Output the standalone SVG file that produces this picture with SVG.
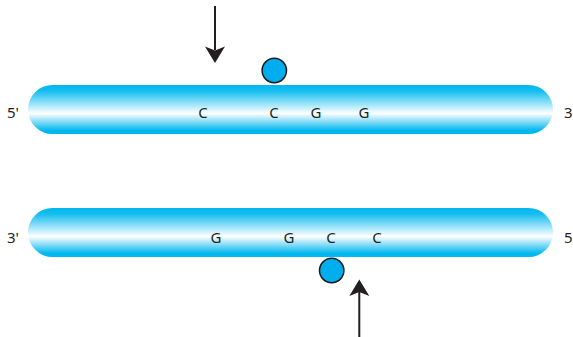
<svg xmlns="http://www.w3.org/2000/svg" width="573" height="337" viewBox="0 0 573 337">
  <defs>
    <linearGradient id="strandFill" x1="0" y1="0" x2="0" y2="1">
      <stop offset="0" stop-color="#00b7ee"/>
      <stop offset="0.12" stop-color="#14bdf0"/>
      <stop offset="0.58" stop-color="#ffffff"/>
      <stop offset="0.93" stop-color="#00b7ee"/>
      <stop offset="1" stop-color="#00b7ee"/>
    </linearGradient>
  </defs>
  <style>
    .strand { fill: url(#strandFill); }
    .base { font-family: "Noto Sans", "Liberation Sans", sans-serif; font-size: 15px; fill: #231f20; text-anchor: middle; }
    .end { font-family: "Noto Sans", "Liberation Sans", sans-serif; font-size: 15px; fill: #231f20; }
    .mark { fill: #00aeef; stroke: #1a1a1a; stroke-width: 1.5; }
    .shaft { stroke: #231f20; stroke-width: 2; fill: none; }
    .head { fill: #231f20; }
  </style>

  <rect width="573" height="337" fill="#ffffff"/>

  <!-- upper strand, 5' to 3' -->
  <g id="strand-top">
    <rect class="strand" x="28" y="85" width="525" height="49" rx="24.5" ry="24.5"/>
    <text class="end" x="7" y="118">5'</text>
    <text class="base" x="203" y="118">C</text>
    <text class="base" x="274" y="118">C</text>
    <text class="base" x="316" y="118">G</text>
    <text class="base" x="364" y="118">G</text>
    <text class="end" x="564" y="118">3</text>
  </g>

  <!-- lower strand, 3' to 5' -->
  <g id="strand-bottom">
    <rect class="strand" x="28" y="208" width="525" height="49" rx="24.5" ry="24.5"/>
    <text class="end" x="7" y="243">3'</text>
    <text class="base" x="216" y="243">G</text>
    <text class="base" x="289" y="243">G</text>
    <text class="base" x="331" y="243">C</text>
    <text class="base" x="377" y="243">C</text>
    <text class="end" x="564" y="243">5</text>
  </g>

  <!-- methyl markers -->
  <g id="marker-top">
    <circle class="mark" cx="274.3" cy="70.5" r="12.2"/>
  </g>
  <g id="marker-bottom">
    <circle class="mark" cx="331.7" cy="270.5" r="12.2"/>
  </g>

  <!-- cut-site arrows -->
  <g id="connectors">
    <g id="arrow-top">
      <line class="shaft" x1="215" y1="6" x2="215" y2="50"/>
      <path class="head" d="M215,63 L205,46.5 L215,50.5 L225,46.5 Z"/>
    </g>
    <g id="arrow-bottom">
      <line class="shaft" x1="359.3" y1="337" x2="359.3" y2="292"/>
      <path class="head" d="M359.3,279.5 L349.3,296 L359.3,292 L369.3,296 Z"/>
    </g>
  </g>
</svg>
